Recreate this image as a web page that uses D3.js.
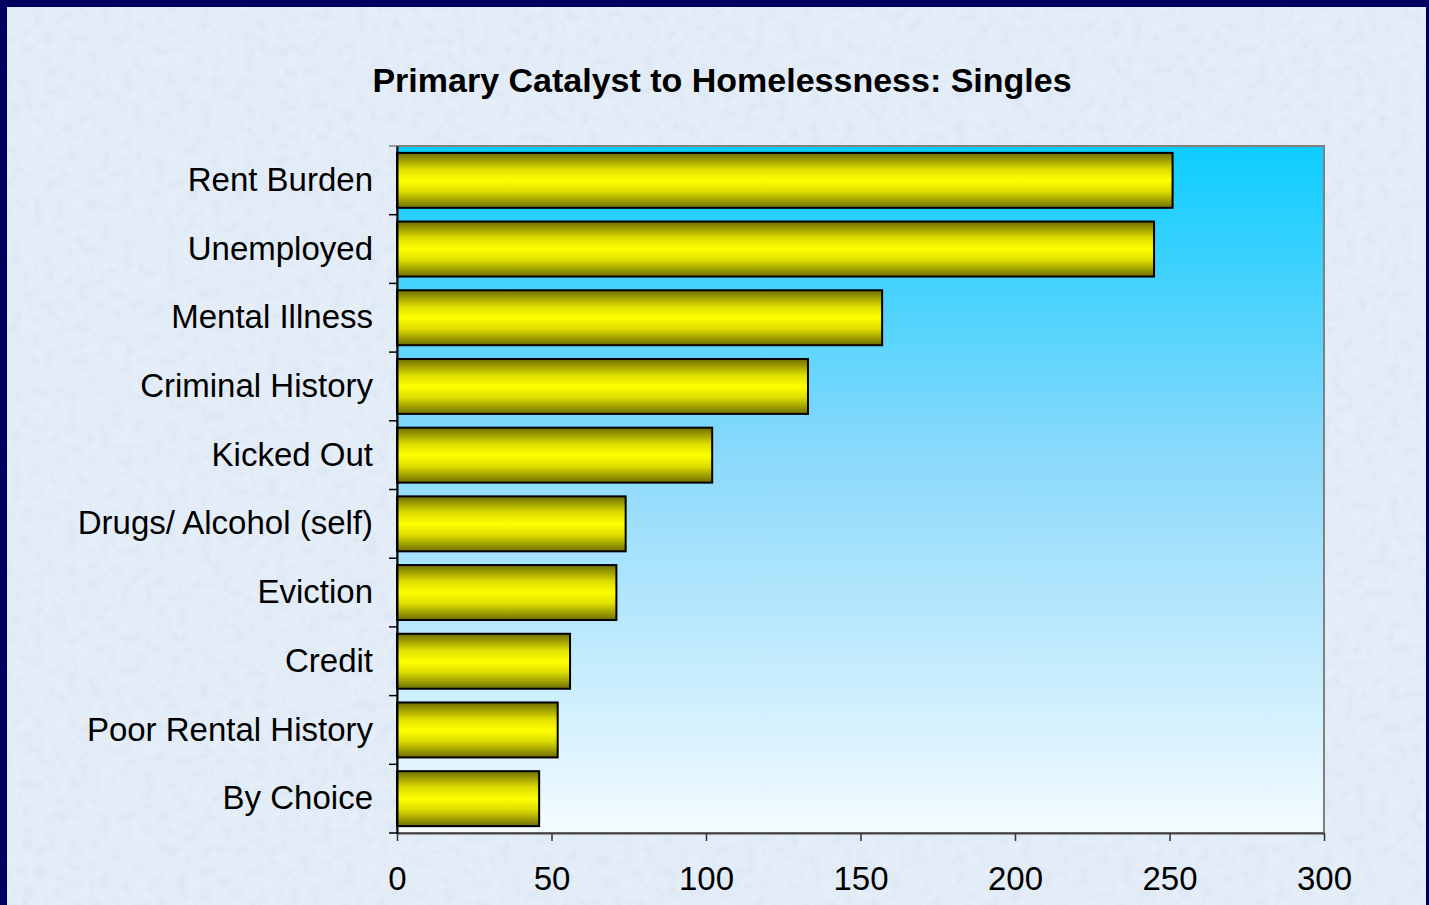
<!DOCTYPE html>
<html><head><meta charset="utf-8">
<script src="https://cdn.jsdelivr.net/npm/d3@7"></script>
<style>body{margin:0;overflow:hidden;background:#000066}</style>
</head><body><svg id="c" width="1429" height="905"></svg>
<script>
const categories = ["Rent Burden","Unemployed","Mental Illness","Criminal History","Kicked Out","Drugs/ Alcohol (self)","Eviction","Credit","Poor Rental History","By Choice"];
const values = [251,245,157,133,102,74,71,56,52,46];
const xTicks = [0,50,100,150,200,250,300];
const title = "Primary Catalyst to Homelessness: Singles";

const svg = d3.select("#c");
const W = 1429, H = 905;
const m = {left:397, top:146, right:1324, bottom:833};
const defs = svg.append("defs");

// texture
const f = defs.append("filter").attr("id","tex").attr("x",0).attr("y",0).attr("width","100%").attr("height","100%");
f.append("feTurbulence").attr("type","fractalNoise").attr("baseFrequency","0.09").attr("numOctaves",3).attr("seed",4).attr("result","n");
f.append("feColorMatrix").attr("in","n").attr("type","matrix")
 .attr("values","0 0 0 0 0.6  0 0 0 0 0.7  0 0 0 0 0.85  0.75 0 0 0 -0.28").attr("result","c");
f.append("feComposite").attr("in","c").attr("in2","SourceGraphic").attr("operator","over");

const bg = defs.append("linearGradient").attr("id","plotbg").attr("x1",0).attr("y1",0).attr("x2",0).attr("y2",1);
bg.append("stop").attr("offset","0%").attr("stop-color","#0ccdff");
bg.append("stop").attr("offset","45%").attr("stop-color","#8ad9fb");
bg.append("stop").attr("offset","100%").attr("stop-color","#f4fbff");

const bar = defs.append("linearGradient").attr("id","bar").attr("x1",0).attr("y1",0).attr("x2",0).attr("y2",1);
[[0,"#6e6e00"],[0.3,"#dede00"],[0.5,"#ffff00"],[0.7,"#dede00"],[1,"#6e6e00"]].forEach(s=>bar.append("stop").attr("offset",s[0]).attr("stop-color",s[1]));

svg.append("rect").attr("width",W).attr("height",H).attr("fill","#00005e");
svg.append("rect").attr("x",7).attr("y",7).attr("width",W-10).attr("height",H).attr("fill","#e5eef8").attr("filter","url(#tex)");

const x = d3.scaleLinear().domain([0,300]).range([m.left,m.right]);
const y = d3.scaleBand().domain(categories).range([m.top,m.bottom]).paddingInner(0.2).paddingOuter(0.1);

svg.append("rect").attr("x",m.left).attr("y",m.top).attr("width",m.right-m.left).attr("height",m.bottom-m.top)
  .attr("fill","url(#plotbg)").attr("stroke","#808080").attr("stroke-width",2);

svg.append("g").selectAll("rect").data(categories).join("rect")
  .attr("x",x(0)).attr("y",d=>y(d)).attr("width",(d,i)=>x(values[i])-x(0)).attr("height",y.bandwidth())
  .attr("fill","url(#bar)").attr("stroke","#000").attr("stroke-width",2);

const font = "Liberation Sans, Arial, sans-serif";
// x axis
const xa = svg.append("g").attr("transform",`translate(0,${m.bottom})`)
  .call(d3.axisBottom(x).tickValues(xTicks).tickSize(8).tickPadding(26).tickSizeOuter(0));
xa.select(".domain").attr("stroke","#444").attr("stroke-width",2);
xa.selectAll(".tick line").attr("stroke","#333").attr("stroke-width",1.5);
xa.selectAll("text").attr("font-family",font).attr("font-size",33).attr("fill","#000");

// y axis: ticks at category boundaries
const step = (m.bottom-m.top)/categories.length;
const ya = svg.append("g").attr("transform",`translate(${m.left},0)`)
  .call(d3.axisLeft(y).tickSize(0).tickPadding(24));
ya.select(".domain").attr("stroke","#000").attr("stroke-width",2);
ya.selectAll("text").attr("font-family",font).attr("font-size",33).attr("fill","#000");
svg.append("g").selectAll("line").data(d3.range(categories.length+1)).join("line")
  .attr("x1",m.left-8).attr("x2",m.left).attr("y1",i=>m.top+i*step).attr("y2",i=>m.top+i*step)
  .attr("stroke",i=>i===0?"#808080":"#000").attr("stroke-width",1.5);

svg.append("text").attr("x",722).attr("y",92).attr("text-anchor","middle")
  .attr("font-family",font).attr("font-weight","bold").attr("font-size",34)
  .text(title);
</script></body></html>
